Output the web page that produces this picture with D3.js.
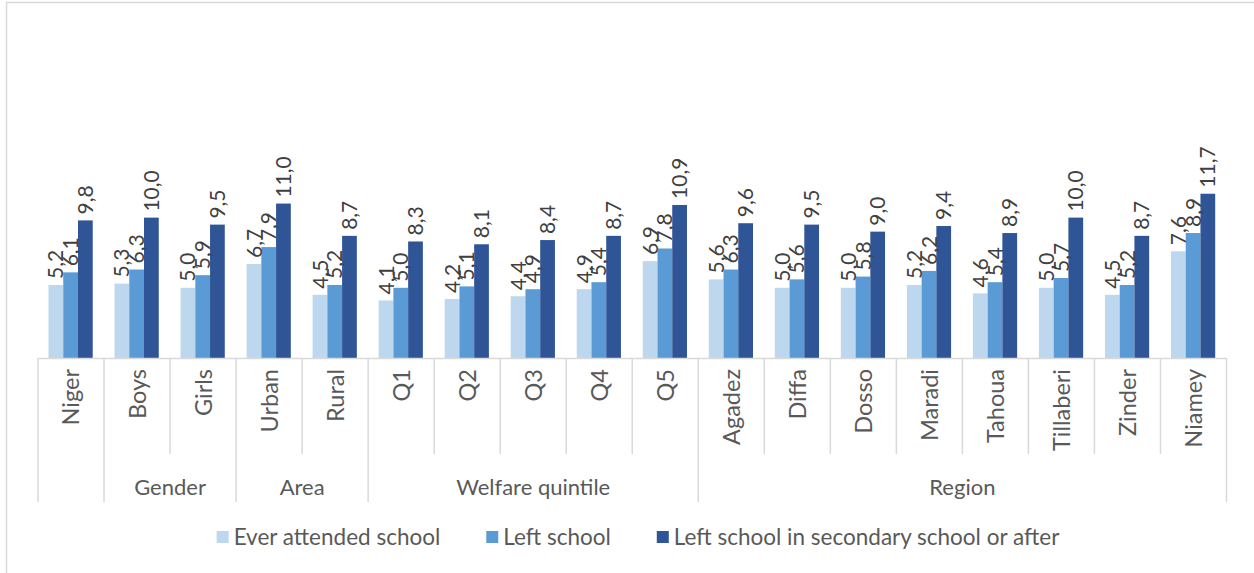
<!DOCTYPE html>
<html>
<head>
<meta charset="utf-8">
<script src="https://cdn.jsdelivr.net/npm/d3@7"></script>
<style>
  html, body { margin: 0; padding: 0; background: #fff; }
  svg { display: block; }
  text { font-family: Lato, "Open Sans", sans-serif; fill: #595959; }
</style>
</head>
<body>
<svg id="chart" width="1254" height="573"></svg>
<script>
// Categories, their grouping and the three series
const categories = ["Niger", "Boys", "Girls", "Urban", "Rural", "Q1", "Q2", "Q3", "Q4", "Q5",
  "Agadez", "Diffa", "Dosso", "Maradi", "Tahoua", "Tillaberi", "Zinder", "Niamey"];
const groups = [
  { name: "", from: 0, to: 0 },
  { name: "Gender", from: 1, to: 2 },
  { name: "Area", from: 3, to: 4 },
  { name: "Welfare quintile", from: 5, to: 9 },
  { name: "Region", from: 10, to: 17 }
];
const seriesNames = ["Ever attended school", "Left school", "Left school in secondary school or after"];
const everAttended = [5.2, 5.3, 5.0, 6.7, 4.5, 4.1, 4.2, 4.4, 4.9, 6.9, 5.6, 5.0, 5.0, 5.2, 4.6, 5.0, 4.5, 7.6];
const leftSchool   = [6.1, 6.3, 5.9, 7.9, 5.2, 5.0, 5.1, 4.9, 5.4, 7.8, 6.3, 5.6, 5.8, 6.2, 5.4, 5.7, 5.2, 8.9];
const leftSecondary = [9.8, 10.0, 9.5, 11.0, 8.7, 8.3, 8.1, 8.4, 8.7, 10.9, 9.6, 9.5, 9.0, 9.4, 8.9, 10.0, 8.7, 11.7];
const colors = ["#BDD7EE", "#5B9BD5", "#2F5597"];

const seriesValues = [everAttended, leftSchool, leftSecondary];
const svg = d3.select("#chart");

// Outer chart frame
svg.append("rect")
  .attr("x", 6.5).attr("y", 2.5).attr("width", 1260).attr("height", 600)
  .attr("fill", "none").attr("stroke", "#D9D9D9").attr("stroke-width", 1.5);

const plot = { left: 38, right: 1226.5, base: 358 };

const x = d3.scaleBand().domain(categories).range([plot.left, plot.right]).padding(0);
const xInner = d3.scaleBand().domain(d3.range(3)).range([10.5, x.bandwidth() - 11.3]).padding(0);
const y = d3.scaleLinear().domain([0, 12]).range([plot.base, plot.base - 12 * 14.04]);

const locale = d3.formatLocale({ decimal: ",", thousands: ".", grouping: [3], currency: ["", ""] });
const fmt = locale.format(".1f");

// Bars
const catG = svg.append("g").selectAll("g")
  .data(categories)
  .join("g")
  .attr("transform", d => `translate(${x(d)},0)`);

catG.selectAll("rect")
  .data((d, i) => seriesValues.map((vals, s) => ({ s, v: vals[i] })))
  .join("rect")
  .attr("x", d => xInner(d.s))
  .attr("width", xInner.bandwidth())
  .attr("y", d => y(d.v))
  .attr("height", d => y(0) - y(d.v))
  .attr("fill", d => colors[d.s]);

// Value labels, rotated, above each bar
catG.selectAll("text.val")
  .data((d, i) => seriesValues.map((vals, s) => ({ s, v: vals[i] })))
  .join("text")
  .attr("class", "val")
  .attr("transform", d => `translate(${xInner(d.s) + xInner.bandwidth() / 2},${y(d.v) - 6}) rotate(-90)`)
  .attr("dy", "0.36em")
  .attr("text-anchor", "start")
  .style("font-size", "21px")
  .style("fill", "#404040")
  .text(d => fmt(d.v));

// Category axis: baseline and separators
const axisColor = "#D9D9D9";
const ax = svg.append("g");
ax.append("line")
  .attr("x1", plot.left).attr("x2", plot.right)
  .attr("y1", plot.base + 0.5).attr("y2", plot.base + 0.5)
  .attr("stroke", axisColor).attr("stroke-width", 1.5);

const groupEdges = new Set();
groups.forEach(g => { groupEdges.add(g.from); groupEdges.add(g.to + 1); });
d3.range(categories.length + 1).forEach(i => {
  const xp = i < categories.length ? x(categories[i]) : plot.right;
  ax.append("line")
    .attr("x1", xp).attr("x2", xp)
    .attr("y1", plot.base).attr("y2", groupEdges.has(i) ? 502 : 454)
    .attr("stroke", axisColor).attr("stroke-width", 1.5);
});

// Category labels
ax.selectAll("text.cat")
  .data(categories)
  .join("text")
  .attr("class", "cat")
  .attr("transform", d => `translate(${x(d) + x.bandwidth() / 2},${plot.base + 11}) rotate(-90)`)
  .attr("dy", "0.36em")
  .attr("text-anchor", "end")
  .style("font-size", "23.5px")
  .text(d => d);

// Group labels
ax.selectAll("text.grp")
  .data(groups.filter(g => g.name))
  .join("text")
  .attr("class", "grp")
  .attr("x", g => (x(categories[g.from]) + x(categories[g.to]) + x.bandwidth()) / 2)
  .attr("y", 487)
  .attr("dy", "0.36em")
  .attr("text-anchor", "middle")
  .style("font-size", "22px")
  .text(g => g.name);

// Legend
const legend = svg.append("g").attr("transform", "translate(0,537)");
const items = legend.selectAll("g").data(seriesNames).join("g");
items.append("rect")
  .attr("width", 12).attr("height", 12).attr("y", -6)
  .attr("fill", (d, i) => colors[i]);
items.append("text")
  .attr("x", 17).attr("dy", "0.36em")
  .style("font-size", "22.5px")
  .text(d => d);
let cursor = 0;
const offsets = [];
items.each(function () {
  offsets.push(cursor);
  const w = d3.select(this).select("text").node().getComputedTextLength();
  cursor += 17 + w + 46;
});
const total = cursor - 46;
const startX = 638 - total / 2;
items.attr("transform", (d, i) => `translate(${startX + offsets[i]},0)`);
</script>
</body>
</html>
